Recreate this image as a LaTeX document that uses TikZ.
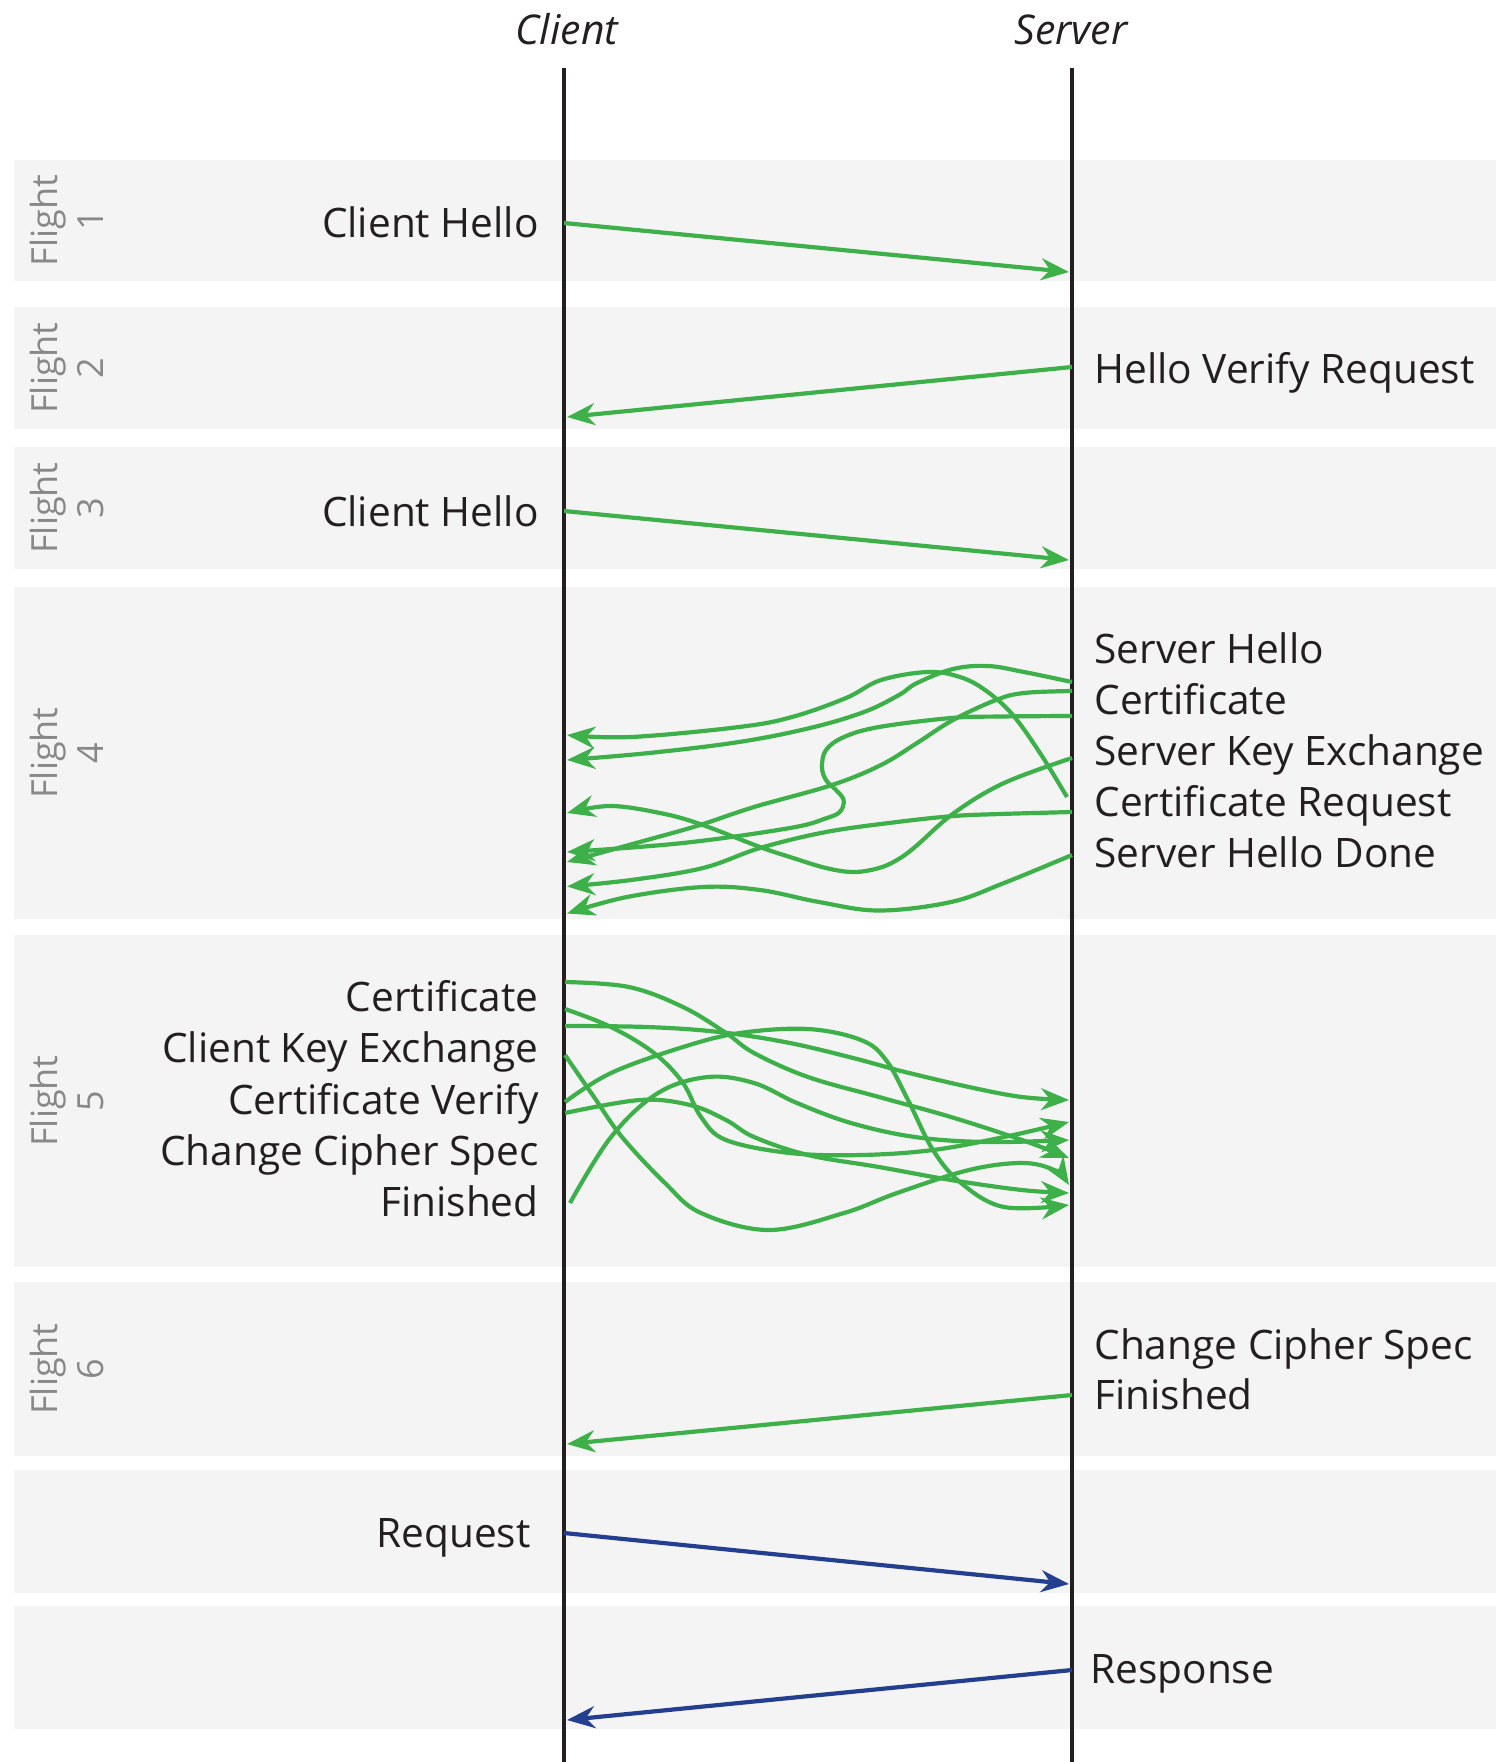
\documentclass[tikz,border=0pt]{standalone}
\usepackage{fontspec}
\setmainfont{Open Sans}
\usetikzlibrary{arrows.meta}
\definecolor{msggreen}{HTML}{3EB049}
\definecolor{msgblue}{HTML}{243F8F}
\definecolor{lifecol}{HTML}{231F20}
\definecolor{bandcol}{HTML}{F4F4F4}
\definecolor{fltgray}{HTML}{888888}
\tikzset{
  band/.style={fill=bandcol},
  life/.style={draw=lifecol, line width=2.3pt},
  hdr/.style={font=\fontsize{20.5}{24}\selectfont\itshape, text=lifecol, inner sep=0pt},
  lbl/.style={font=\fontsize{20.3}{24}\selectfont, text=lifecol, inner sep=0pt},
  flt/.style={font=\fontsize{18}{23}\selectfont, text=fltgray, rotate=90, align=center, inner sep=0pt},
  tip/.style={-{Stealth[length=14pt,width=11pt,inset=4.5pt]}},
  msg/.style={draw=msggreen, line width=2.1pt, tip},
  app/.style={draw=msgblue, line width=2.1pt, tip},
}
\begin{document}
\begin{tikzpicture}[x=0.5pt,y=-0.5pt]
\useasboundingbox (0,0) rectangle (1496,1762);
% bands
\fill[band] (13.5,160) rectangle (1496,281);
\fill[band] (13.5,307) rectangle (1496,429);
\fill[band] (13.5,447) rectangle (1496,569);
\fill[band] (13.5,587) rectangle (1496,919);
\fill[band] (13.5,935) rectangle (1496,1267);
\fill[band] (13.5,1282) rectangle (1496,1456);
\fill[band] (13.5,1470) rectangle (1496,1593);
\fill[band] (13.5,1606) rectangle (1496,1729);
% flight labels
\node[flt] (f1) at (67,220.5) {Flight\\1};
\node[flt] (f2) at (67,368) {Flight\\2};
\node[flt] (f3) at (67,508) {Flight\\3};
\node[flt] (f4) at (67,753) {Flight\\4};
\node[flt] (f5) at (67,1101) {Flight\\5};
\node[flt] (f6) at (67,1369) {Flight\\6};
% headers and lifelines
\node[hdr, anchor=base] (client) at (567,44) {Client};
\node[hdr, anchor=base] (server) at (1071,44) {Server};
\coordinate (ctop) at (564,68);
\coordinate (cbot) at (564,1762);
\coordinate (stop) at (1072,68);
\coordinate (sbot) at (1072,1762);
\draw[life] (ctop) -- (cbot);
\draw[life] (stop) -- (sbot);
% straight messages
\coordinate (c1) at (564,223);  \coordinate (s1) at (1069,272);
\coordinate (s2) at (1072,367); \coordinate (c2) at (567,417);
\coordinate (c3) at (564,511);  \coordinate (s3) at (1069,560);
\coordinate (s6) at (1072,1395); \coordinate (c6) at (567,1444);
\coordinate (c7) at (564,1533); \coordinate (s7) at (1069,1584);
\coordinate (s8) at (1072,1670); \coordinate (c8) at (567,1720);
\draw[msg] (c1) -- (s1);
\draw[msg] (s2) -- (c2);
\draw[msg] (c3) -- (s3);
\draw[msg] (s6) -- (c6);
\draw[app] (c7) -- (s7);
\draw[app] (s8) -- (c8);
% flight 4 curves
\coordinate (s4a) at (1072,682);  \coordinate (c4a) at (567,760);
\coordinate (s4b) at (1067,797);  \coordinate (c4b) at (567,735);
\coordinate (s4c) at (1072,691);  \coordinate (c4c) at (567,862);
\coordinate (s4d) at (1072,716);  \coordinate (c4d) at (567,852);
\coordinate (s4e) at (1072,758);  \coordinate (c4e) at (567,813);
\coordinate (s4f) at (1072,812);  \coordinate (c4f) at (567,886.5);
\coordinate (s4g) at (1072,855);  \coordinate (c4g) at (567,913.5);
\draw[msg] plot[smooth, tension=0.6] coordinates {(s4a) (1024,672) (988,666) (953,669) (917,683) (899,695) (864,712) (810,728) (739,742) (649,753) (c4a)};
\draw[msg] plot[smooth, tension=0.6] coordinates {(s4b) (1040,753) (1012,714) (985,690) (960,677) (928,672) (881,680) (846,698) (792,717) (739,727) (631,737) (c4b)};
\draw[msg] plot[smooth, tension=0.6] coordinates {(s4c) (1024,693) (996,700) (953,720) (917,743) (881,765) (832,785) (754,807) (700,825) (647,840) (c4c)};
\draw[msg] plot[smooth, tension=0.6] coordinates {(s4d) (1000,716.5) (951,718) (879,727) (844,737) (826,750) (822,767) (826,780) (836,790) (843.6,800) (840,811.7) (826,818.3) (790,828) (683,843) (c4d)};
\draw[msg] plot[smooth, tension=0.6] coordinates {(s4e) (1004,783) (954,813) (915,847) (897,860) (879,868) (854,872) (826,868) (790,857) (760,847) (700,824) (660,813) (610,806) (c4e)};
\draw[msg] plot[smooth, tension=0.6] coordinates {(s4f) (1000,814) (954,816) (897,822) (826,832) (760,848) (703,868) (631,880) (c4f)};
\draw[msg] plot[smooth, tension=0.6] coordinates {(s4g) (1004,883) (951,902) (879,910.5) (819,902) (760,890) (703,887) (627,897) (c4g)};
% flight 5 curves
\coordinate (c5a) at (565,982);   \coordinate (s5a) at (1069,1158);
\coordinate (c5b) at (565,1009);  \coordinate (s5b) at (1069,1122);
\coordinate (c5c) at (565,1026);  \coordinate (s5c) at (1069,1100);
\coordinate (c5d) at (565,1055);  \coordinate (s5d) at (1069,1185);
\coordinate (c5e) at (565,1102);  \coordinate (s5e) at (1069,1205);
\coordinate (c5f) at (565,1113);  \coordinate (s5f) at (1069,1193);
\coordinate (c5g) at (570,1203);  \coordinate (s5g) at (1069,1140);
\draw[msg] plot[smooth, tension=0.6] coordinates {(c5a) (629,987) (683,1007) (726,1033) (754,1053) (808,1077) (879,1097) (951,1117) (1022,1140) (s5a)};
\draw[msg] plot[smooth, tension=0.6] coordinates {(c5b) (611,1027) (654,1053) (683,1083) (701,1117) (726,1140) (790,1153) (861,1155) (933,1150) (1004,1137) (s5b)};
\draw[msg] plot[smooth, tension=0.6] coordinates {(c5c) (647,1027) (719,1032) (790,1043) (861,1060) (897,1070) (969,1087) (1022,1097) (s5c)};
\draw[msg] plot[smooth, tension=0.6] coordinates {(c5d) (594,1097) (622,1137) (665,1183) (701,1213) (769,1230) (844,1213) (897,1193) (969,1170) (1022,1163) (1054,1170) (s5d)};
\draw[msg] plot[smooth, tension=0.6] coordinates {(c5e) (611,1073) (683,1047) (740,1033) (808,1029) (861,1040) (886,1060) (908,1100) (933,1150) (961,1183) (1004,1207) (s5e)};
\draw[msg] plot[smooth, tension=0.6] coordinates {(c5f) (640,1100) (690,1105) (726,1120) (754,1137) (808,1155) (879,1167) (951,1180) (1022,1190) (s5f)};
\draw[msg] plot[smooth, tension=0.6] coordinates {(c5g) (611,1137) (658,1093) (708,1077) (754,1083) (797,1103) (851,1123) (915,1137) (986,1142) (s5g)};
% labels
\node[lbl, anchor=base east] (l1) at (539,237) {Client Hello};
\node[lbl, anchor=base west] (l2) at (1094,383) {Hello Verify Request};
\node[lbl, anchor=base east] (l3) at (539,526) {Client Hello};
\node[lbl, anchor=base west] (l4a) at (1094,663) {Server Hello};
\node[lbl, anchor=base west] (l4b) at (1094,714) {Certificate};
\node[lbl, anchor=base west] (l4c) at (1094,765) {Server Key Exchange};
\node[lbl, anchor=base west] (l4d) at (1094,816) {Certificate Request};
\node[lbl, anchor=base west] (l4e) at (1094,867) {Server Hello Done};
\node[lbl, anchor=base east] (l5a) at (539,1011.7) {Certificate};
\node[lbl, anchor=base east] (l5b) at (539,1062.7) {Client Key Exchange};
\node[lbl, anchor=base east] (l5c) at (539,1114) {Certificate Verify};
\node[lbl, anchor=base east] (l5d) at (539,1165) {Change Cipher Spec};
\node[lbl, anchor=base east] (l5e) at (539,1216) {Finished};
\node[lbl, anchor=base west] (l6a) at (1094,1359) {Change Cipher Spec};
\node[lbl, anchor=base west] (l6b) at (1094,1409) {Finished};
\node[lbl, anchor=base east] (l7) at (531,1547) {Request};
\node[lbl, anchor=base west] (l8) at (1090,1683) {Response};
\end{tikzpicture}
\end{document}
